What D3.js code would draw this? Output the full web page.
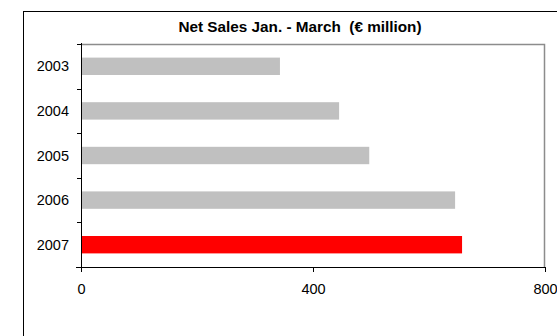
<!DOCTYPE html>
<html>
<head>
<meta charset="utf-8">
<script src="https://cdn.jsdelivr.net/npm/d3@7"></script>
<style>
  body { margin: 0; background: #fff; }
  text { font-family: "Liberation Sans", Arial, sans-serif; }
</style>
</head>
<body>
<script>
// chart data
var years = ["2003", "2004", "2005", "2006", "2007"];
var sales = [343, 445, 497, 645, 657];
var xTicks = [0, 400, 800];
var title = "Net Sales Jan. - March  (\u20ac million)";

var width = 557, height = 336;
var svg = d3.select("body").append("svg")
    .attr("width", width)
    .attr("height", height);

// outer chart border (runs off the right and bottom)
svg.append("rect")
    .attr("x", 23.5).attr("y", 11.5)
    .attr("width", 560).attr("height", 340)
    .attr("fill", "none").attr("stroke", "#000").attr("stroke-width", 1);

var pLeft = 81, pRight = 545, pTop = 44, pBottom = 267;

var x = d3.scaleLinear().domain([0, 800]).range([pLeft, pRight]);
var y = d3.scaleBand().domain(years).range([pTop, pBottom]).paddingInner(0.61).paddingOuter(0.305);

// plot frame top/right in gray
svg.append("path")
    .attr("d", "M" + pLeft + "," + (pTop + 0.5) + "H" + (pRight - 0.5) + "V" + pBottom)
    .attr("fill", "none").attr("stroke", "#8c8c8c").attr("stroke-width", 1.5);

svg.selectAll("rect.bar")
    .data(years)
    .enter()
    .append("rect")
    .attr("class", "bar")
    .attr("x", x(0))
    .attr("y", function(d) { return y(d); })
    .attr("width", function(d, i) { return x(sales[i]) - x(0); })
    .attr("height", y.bandwidth())
    .attr("fill", function(d) { return d == "2007" ? "#ff0000" : "#c0c0c0"; });

svg.append("text")
    .attr("x", 300).attr("y", 32)
    .attr("text-anchor", "middle")
    .attr("font-size", 15.3).attr("font-weight", "bold")
    .style("white-space", "pre")
    .text(title);

// x axis
var xAxis = d3.axisBottom(x).tickValues(xTicks).tickSize(5).tickFormat(d3.format("d"));
var gx = svg.append("g").attr("transform", "translate(0," + pBottom + ")").call(xAxis);
gx.select(".domain").attr("d", "M" + (pLeft - 5) + ",0.5H" + pRight).attr("stroke", "#000");
gx.selectAll("text").attr("font-size", 14.5).attr("dy", 19).attr("fill", "#000").attr("font-family", "Liberation Sans, Arial, sans-serif");

// y axis with ticks between categories
var step = y.step();
var yBounds = d3.range(years.length + 1).map(function(i) { return pTop + i * step; });
var gy = svg.append("g");
gy.append("line")
    .attr("x1", pLeft + 0.5).attr("x2", pLeft + 0.5)
    .attr("y1", pTop - 1).attr("y2", pBottom + 5)
    .attr("stroke", "#000");
gy.selectAll("line.tk")
    .data(yBounds)
    .enter()
    .append("line")
    .attr("class", "tk")
    .attr("x1", pLeft - 4).attr("x2", pLeft)
    .attr("y1", function(d) { return Math.round(d) + 0.5; }).attr("y2", function(d) { return Math.round(d) + 0.5; })
    .attr("stroke", "#000");
gy.selectAll("text.lbl")
    .data(years)
    .enter()
    .append("text")
    .attr("class", "lbl")
    .attr("x", pLeft - 12)
    .attr("y", function(d) { return y(d) + y.bandwidth() / 2; })
    .attr("dy", "0.35em")
    .attr("text-anchor", "end")
    .attr("font-size", 14.5)
    .text(function(d) { return d; });
</script>
</body>
</html>
